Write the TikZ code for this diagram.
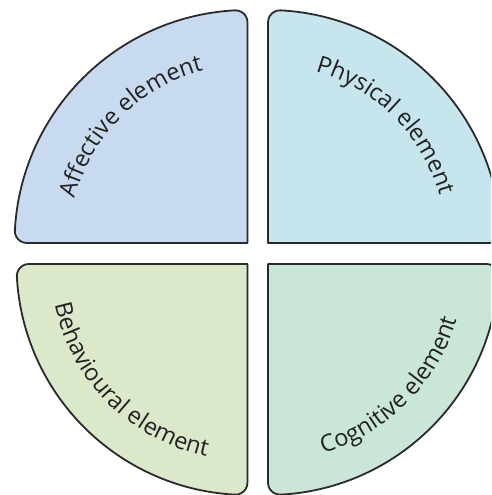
\documentclass[tikz,border=0pt]{standalone}
\usepackage{fontspec}
\setmainfont{Open Sans}
\usetikzlibrary{decorations.text}
\definecolor{cA}{HTML}{C7DAEF}
\definecolor{cP}{HTML}{C7E5EC}
\definecolor{cB}{HTML}{DBE8CA}
\definecolor{cC}{HTML}{C9E6D6}
\definecolor{edge}{HTML}{2A2A2A}
\definecolor{txt}{HTML}{222222}
\newcommand\lblfont{\fontsize{23.5}{27}\selectfont\color{txt}}
% quarter disc in the quadrant x<=0, y>=0: radius #1, fillet 12, fillet tangent height #2, fillet angle #3
\newcommand\quadshape[3]{%
  (0,0) -- (0,#2)
  arc[start angle=0, end angle={90+#3}, radius=12]
  arc[start angle={90+#3}, end angle={180-#3}, radius=#1]
  arc[start angle={180-#3}, end angle=270, radius=12]
  -- cycle}
\begin{document}
\begin{tikzpicture}[x=1pt,y=1pt]
\tikzset{
  quad/.style={draw=edge, line width=1.8pt, line join=round},
  lbl/.style={decorate, decoration={text along path, text align=center, text={|\lblfont|#1}}}
}
\useasboundingbox (0,0) rectangle (491,495);
\clip (0,0) rectangle (491,495);
% top-left
\begin{scope}[shift={(247.5,252)}]
  \draw[quad, fill=cA] \quadshape{233}{220.674}{3.1127};
\end{scope}
% top-right
\begin{scope}[shift={(268,252)}, rotate=-90]
  \draw[quad, fill=cP] \quadshape{233}{220.674}{3.1127};
\end{scope}
% bottom-left
\begin{scope}[shift={(247.5,231)}, rotate=90]
  \draw[quad, fill=cB] \quadshape{231}{218.671}{3.1411};
\end{scope}
% bottom-right
\begin{scope}[shift={(268,231)}, rotate=180]
  \draw[quad, fill=cC] \quadshape{231}{218.671}{3.1411};
\end{scope}
% labels
\path[lbl={Affective element}] (247.5,252) ++(180:178) arc[start angle=180, end angle=90, radius=178];
\path[lbl={Physical element}] (268,252) ++(90:178) arc[start angle=90, end angle=0, radius=178];
\path[lbl={Behavioural element}] (247.5,231) ++(180:197) arc[start angle=180, end angle=270, radius=197];
\path[lbl={Cognitive element}] (268,231) ++(270:197) arc[start angle=270, end angle=360, radius=197];
\end{tikzpicture}
\end{document}
